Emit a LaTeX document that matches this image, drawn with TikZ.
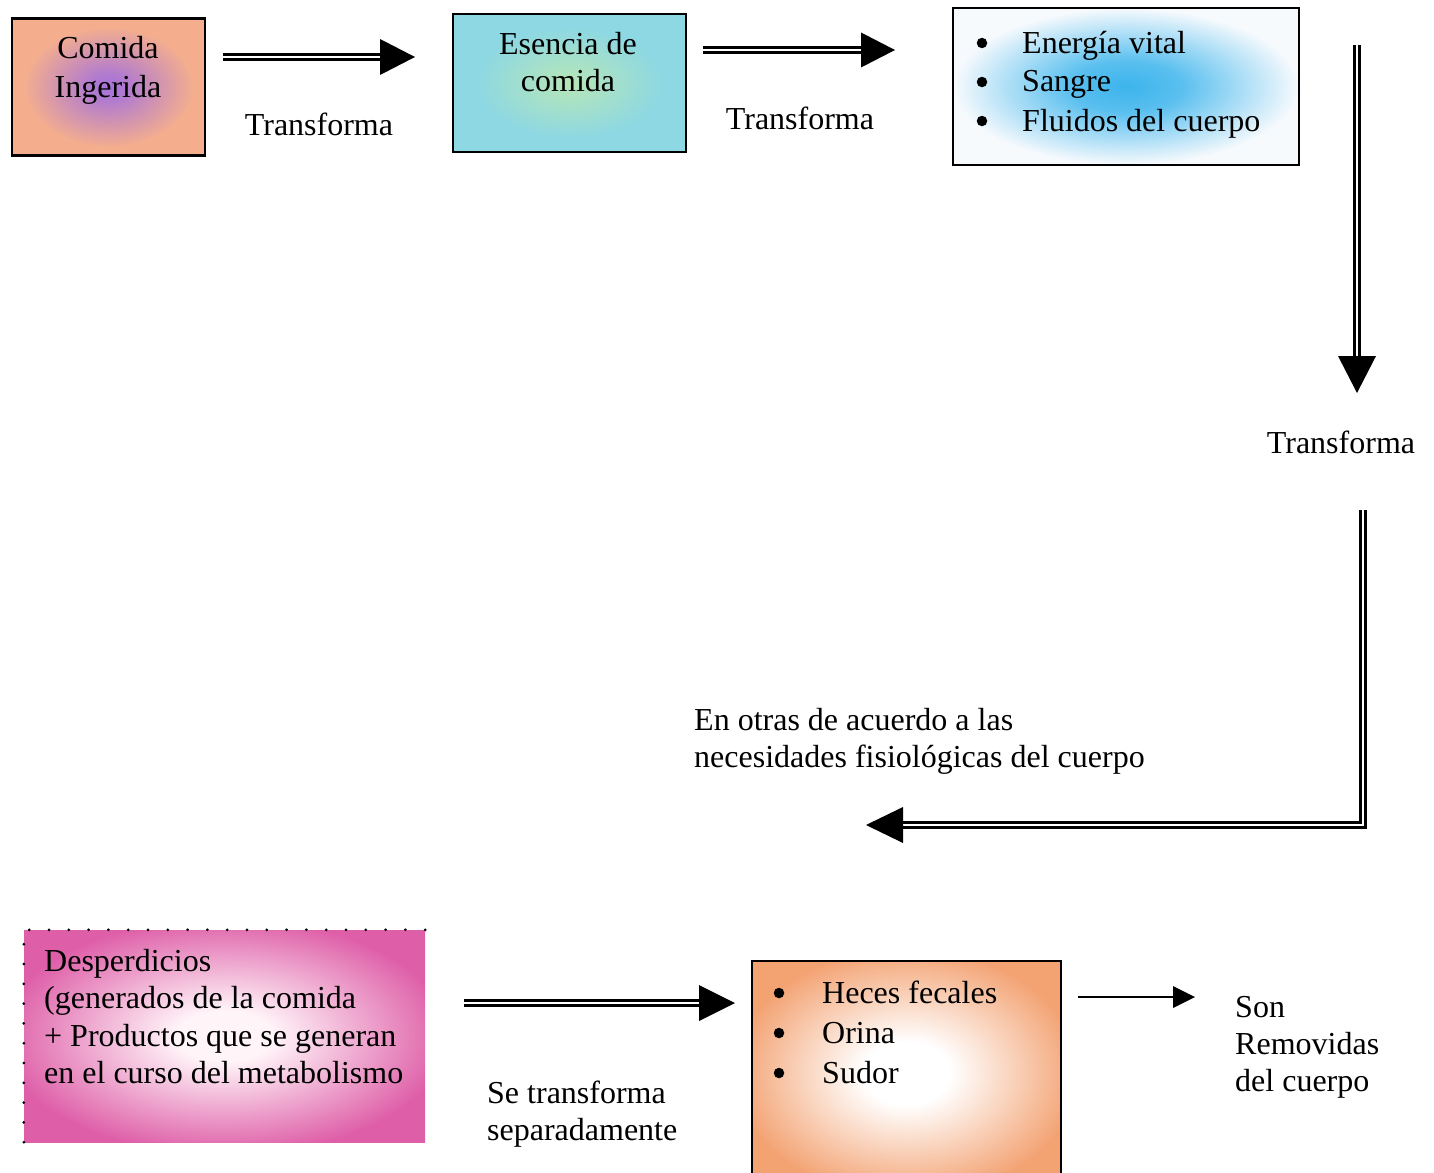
\documentclass[tikz,border=0pt]{standalone}
\usepackage{fontspec}
\setmainfont{Liberation Serif}
\usetikzlibrary{calc}
\definecolor{peach}{HTML}{F4AE8E}
\definecolor{violetc}{HTML}{A672DA}
\definecolor{cyanb}{HTML}{8ED8E3}
\definecolor{greenc}{HTML}{B6E6B6}
\definecolor{bluec}{HTML}{3CB4EC}
\definecolor{offw}{HTML}{F7FAFD}
\definecolor{pinkd}{HTML}{DE5EA8}
\definecolor{pinkc}{HTML}{FFF4F8}
\definecolor{orangee}{HTML}{F3A272}
\pgfdeclareradialshading{glowA}{\pgfpoint{0bp}{0bp}}{color(0bp)=(violetc); color(5bp)=(violetc!85!peach); color(22bp)=(peach); color(50bp)=(peach)}
\pgfdeclareradialshading{glowB}{\pgfpoint{0bp}{0bp}}{color(0bp)=(greenc); color(20bp)=(cyanb); color(50bp)=(cyanb)}
\pgfdeclareradialshading{glowC}{\pgfpoint{0bp}{0bp}}{color(0bp)=(bluec); color(8bp)=(bluec!85!white); color(25bp)=(offw); color(50bp)=(offw)}
\pgfdeclareradialshading{glowD}{\pgfpoint{0bp}{0bp}}{color(0bp)=(pinkc); color(6bp)=(pinkc); color(28bp)=(pinkd); color(50bp)=(pinkd)}
\pgfdeclareradialshading{glowE}{\pgfpoint{0bp}{0bp}}{color(0bp)=(white); color(7bp)=(white); color(28bp)=(orangee); color(50bp)=(orangee)}
\begin{document}
\begin{tikzpicture}[x=1pt,y=-1pt,
  box/.style={draw, line width=2.4pt, inner sep=0pt},
  txt/.style={font=\fontsize{32}{38}\selectfont, inner sep=0pt},
  bul/.style={circle, fill, inner sep=0pt, minimum size=10.5pt},
  dbl/.style={draw, double, line width=2.8pt, double distance=2.4pt, line join=miter},
  thin/.style={draw, line width=2.2pt}]
\useasboundingbox[fill=white] (0,0) rectangle (1434,1172);

% ---------- top row ----------
\node[box, minimum width=193pt, minimum height=137pt, shade, shading=glowA] (A) at (108.5,87) {};
\node[txt, anchor=base] (A1) at (108,59) {Comida};
\node[txt, anchor=base] (A2) at (108,97) {Ingerida};

\node[box, minimum width=233pt, minimum height=138pt, shade, shading=glowB] (B) at (569.5,83) {};
\node[txt, anchor=base] (B1) at (568,55) {Esencia de};
\node[txt, anchor=base] (B2) at (568,92) {comida};

\node[box, minimum width=346pt, minimum height=157pt, shade, shading=glowC] (C) at (1126,86.5) {};
\node[bul] (Cb1) at (982,43) {};
\node[bul] (Cb2) at (982,82) {};
\node[bul] (Cb3) at (982,121) {};
\node[txt, anchor=base west] (C1) at (1022,53) {Energía vital};
\node[txt, anchor=base west] (C2) at (1022,92) {Sangre};
\node[txt, anchor=base west] (C3) at (1022,131) {Fluidos del cuerpo};

% arrow 1
\coordinate (a1s) at (223,57);
\coordinate (a1b) at (380,57);
\coordinate (a1t) at (415,57);
\draw[dbl] (a1s) -- ($(a1b)+(2,0)$);
\fill (a1t) -- ($(a1b)+(0,-18)$) -- ($(a1b)+(0,18)$) -- cycle;
\node[txt, anchor=base] (t1) at (319,135) {Transforma};

% arrow 2
\coordinate (a2s) at (703,50);
\coordinate (a2b) at (861,50);
\coordinate (a2t) at (895,50);
\draw[dbl] (a2s) -- ($(a2b)+(2,0)$);
\fill (a2t) -- ($(a2b)+(0,-17.5)$) -- ($(a2b)+(0,17.5)$) -- cycle;
\node[txt, anchor=base] (t2) at (800,129) {Transforma};

% arrow 3 (vertical)
\coordinate (a3s) at (1357,45);
\coordinate (a3b) at (1357,356);
\coordinate (a3t) at (1357,393);
\draw[dbl] (a3s) -- ($(a3b)+(0,2)$);
\fill (a3t) -- ($(a3b)+(-19,0)$) -- ($(a3b)+(19,0)$) -- cycle;
\node[txt, anchor=base] (t3) at (1341,453) {Transforma};

% path 4 (down then left)
\coordinate (a4s) at (1363,510);
\coordinate (a4c) at (1363,825);
\coordinate (a4b) at (903,825);
\coordinate (a4t) at (866,825);
\draw[dbl] (a4s) -- (a4c) -- ($(a4b)+(-2,0)$);
\fill (a4t) -- ($(a4b)+(0,-18)$) -- ($(a4b)+(0,18)$) -- cycle;
\node[txt, anchor=base west] (t4a) at (694,730) {En otras de acuerdo a las};
\node[txt, anchor=base west] (t4b) at (694,767) {necesidades fisiológicas del cuerpo};

% ---------- bottom row ----------
\node[inner sep=0pt, minimum width=401pt, minimum height=212pt, shade, shading=glowD] (D) at (224.5,1036) {};
\draw[line width=3pt, line cap=round, dash pattern=on 0pt off 19.8pt] (D.south west) -- (D.north west) -- (D.north east);
\node[txt, anchor=base west] (D1) at (44,971) {Desperdicios};
\node[txt, anchor=base west] (D2) at (44,1008.5) {(generados de la comida};
\node[txt, anchor=base west] (D3) at (44,1046) {+ Productos que se generan};
\node[txt, anchor=base west] (D4) at (44,1083.5) {en el curso del metabolismo};

% arrow 5
\coordinate (a5s) at (464,1003);
\coordinate (a5b) at (699,1003);
\coordinate (a5t) at (735,1003);
\draw[dbl] (a5s) -- ($(a5b)+(2,0)$);
\fill (a5t) -- ($(a5b)+(0,-18)$) -- ($(a5b)+(0,18)$) -- cycle;
\node[txt, anchor=base west] (t5a) at (487,1103) {Se transforma};
\node[txt, anchor=base west] (t5b) at (487,1140) {separadamente};

\node[box, minimum width=309pt, minimum height=224pt, shade, shading=glowE] (E) at (906.5,1073) {};
\node[bul] (Eb1) at (779,993) {};
\node[bul] (Eb2) at (779,1033) {};
\node[bul] (Eb3) at (779,1073) {};
\node[txt, anchor=base west] (E1) at (822,1003) {Heces fecales};
\node[txt, anchor=base west] (E2) at (822,1043) {Orina};
\node[txt, anchor=base west] (E3) at (822,1083) {Sudor};

% arrow 6 (thin)
\coordinate (a6s) at (1078,997);
\coordinate (a6b) at (1173,997);
\coordinate (a6t) at (1195,997);
\draw[thin] (a6s) -- ($(a6b)+(1,0)$);
\fill (a6t) -- ($(a6b)+(0,-11)$) -- ($(a6b)+(0,11)$) -- cycle;
\node[txt, anchor=base west] (t6a) at (1235,1017) {Son};
\node[txt, anchor=base west] (t6b) at (1235,1054) {Removidas};
\node[txt, anchor=base west] (t6c) at (1235,1091) {del cuerpo};
\end{tikzpicture}
\end{document}
